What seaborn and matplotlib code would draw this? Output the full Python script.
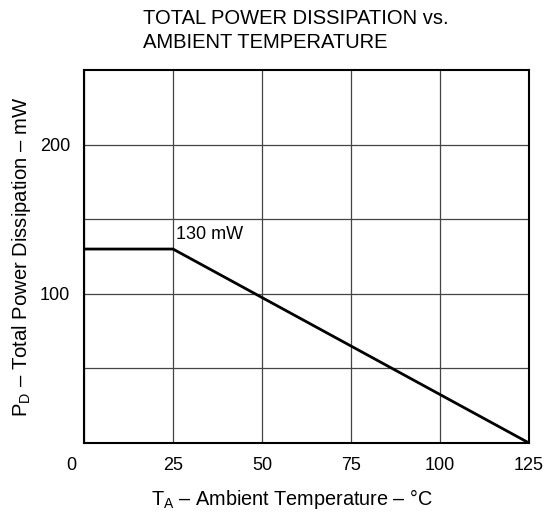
import pandas as pd
import matplotlib
matplotlib.use('Agg')
import matplotlib.pyplot as plt
import seaborn as sns

temp = [0, 25, 125]
power = [130, 130, 0]
x_ticks = [0, 25, 50, 75, 100, 125]
y_grid = [50, 100, 150, 200]
y_labels = ['', '100', '', '200']

df = pd.DataFrame({'temp': temp, 'power': power})

sns.set_style('white')
plt.rcParams['font.family'] = ['Liberation Sans', 'DejaVu Sans']
plt.rcParams['mathtext.fontset'] = 'custom'
plt.rcParams['mathtext.rm'] = 'Liberation Sans'
plt.rcParams['mathtext.it'] = 'Liberation Sans'
plt.rcParams['text.color'] = 'black'
plt.rcParams['axes.labelcolor'] = 'black'

fig = plt.figure(figsize=(5.49, 5.14), dpi=100)
ax = fig.add_axes([84/549, 1-443/514, (529-84)/549, (443-70)/514])

sns.lineplot(data=df, x='temp', y='power', color='black', linewidth=2, ax=ax)

ax.set_xlim(0, 125)
ax.set_ylim(0, 250)
ax.set_xticks(x_ticks)
ax.set_xticklabels([''] + [str(t) for t in x_ticks[1:]])
ax.set_yticks(y_grid)
ax.set_yticklabels(y_labels)
ax.tick_params(length=0, labelsize=13, pad=10, colors='black')
ax.grid(True, color='#444444', linewidth=0.9)
for s in ax.spines.values():
    s.set_color('black')
    s.set_linewidth(1.5)

# the "0" label sits left of the axis corner
ax.annotate('0', xy=(0, 0), xytext=(-9, -10), textcoords='offset points',
            ha='center', va='top', fontsize=13)

ax.annotate('130 mW', xy=(25, 130), xytext=(2, 4), textcoords='offset points',
            ha='left', va='bottom', fontsize=13)

ax.set_xlabel(r'$\mathrm{T_A}$ – Ambient Temperature – °C', fontsize=14.3)
ax.xaxis.set_label_coords(0.467, -0.118)
ax.set_ylabel(r'$\mathrm{P_D}$ – Total Power Dissipation – mW', fontsize=14.6, labelpad=5)

fig.text(143/549, 1-9/514, 'TOTAL POWER DISSIPATION vs.\nAMBIENT TEMPERATURE',
         ha='left', va='top', fontsize=14.5, linespacing=1.3)

fig.savefig('out.png', dpi=100)
